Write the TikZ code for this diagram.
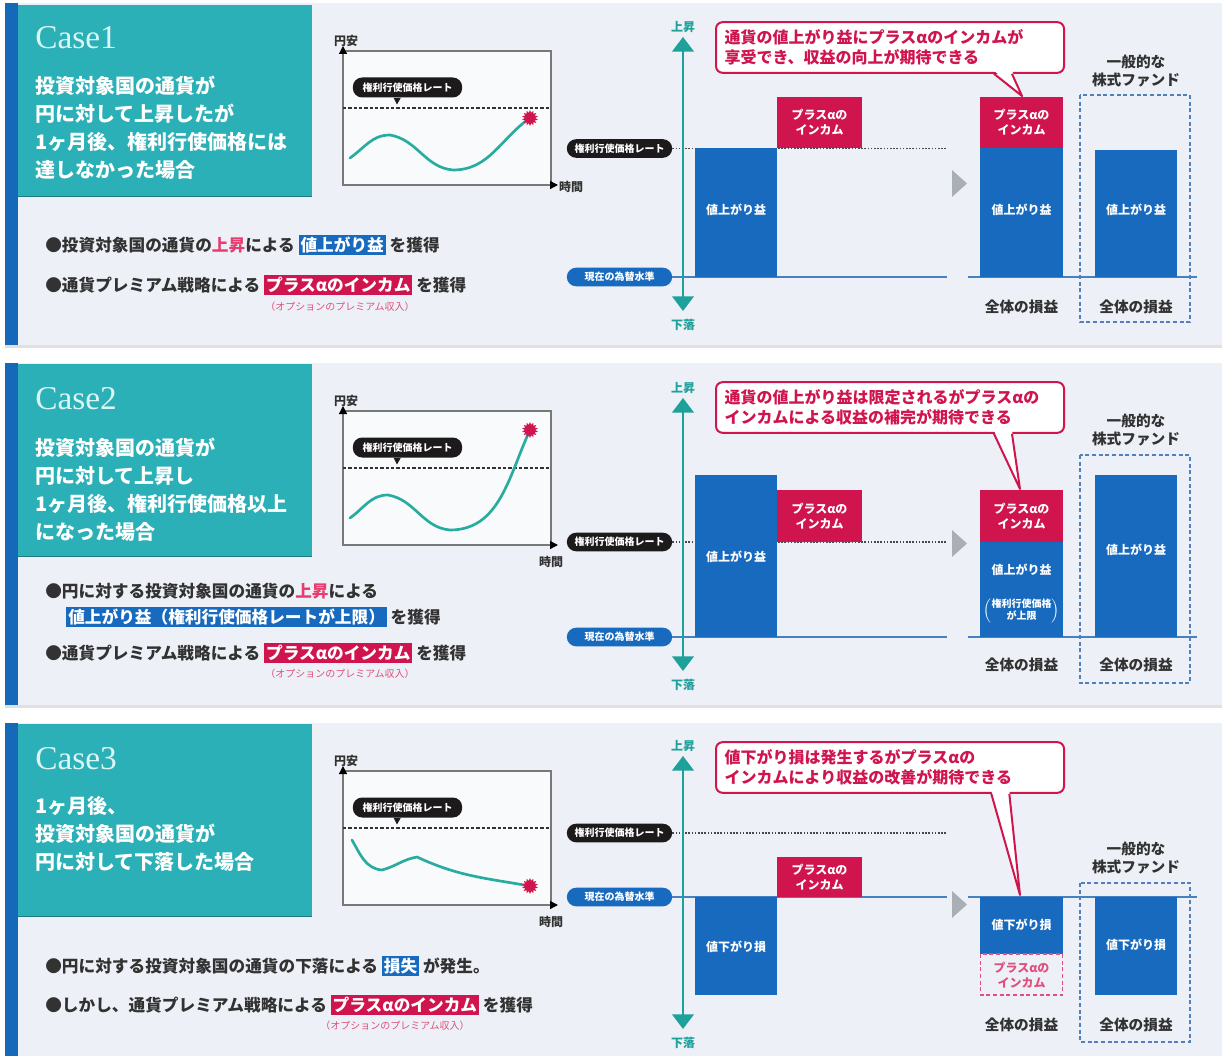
\documentclass[tikz,border=0pt]{standalone}
\usepackage{fontspec}
\setmainfont{Noto Sans CJK JP}
\newfontfamily\casefont{Liberation Serif}
\usetikzlibrary{arrows.meta}
\usetikzlibrary{shapes.geometric}

\definecolor{panelbg}{RGB}{237,241,247}
\definecolor{sidebar}{RGB}{22,104,184}
\definecolor{casebox}{RGB}{42,176,182}
\definecolor{casetext}{RGB}{220,246,246}
\definecolor{barblue}{RGB}{24,106,190}
\definecolor{crimson}{RGB}{208,20,78}
\definecolor{axisteal}{RGB}{30,160,155}
\definecolor{curveteal}{RGB}{40,172,160}
\definecolor{pillblack}{RGB}{28,26,26}
\definecolor{inkgray}{RGB}{50,50,50}
\definecolor{notepink}{RGB}{222,80,125}
\definecolor{hotpink}{RGB}{232,60,110}
\definecolor{arrowgray}{RGB}{170,175,182}
\definecolor{fundblue}{RGB}{80,130,185}
\definecolor{levelblue}{RGB}{70,130,195}
\definecolor{chartbg}{RGB}{248,250,252}
\definecolor{boxgray}{RGB}{120,120,120}

\newcommand{\markblue}[1]{\colorbox{barblue}{\textcolor{white}{#1}}}
\newcommand{\markred}[1]{\colorbox{crimson}{\textcolor{white}{#1}}}
\setlength{\fboxsep}{1.5pt}

\tikzset{
  casetitle/.style={anchor=west, inner sep=0pt, text=casetext, font=\casefont\fontsize{25}{25}\selectfont},
  casedesc/.style={anchor=west, inner sep=0pt, text=white, align=left, font=\bfseries\fontsize{15}{21}\selectfont},
  bulletline/.style={anchor=west, inner sep=0pt, text=inkgray, font=\bfseries\fontsize{12.5}{15}\selectfont},
  optnote/.style={inner sep=0pt, text=notepink, font=\fontsize{7.5}{8}\selectfont},
  axislabel/.style={inner sep=0pt, text=inkgray, font=\bfseries\fontsize{9}{10}\selectfont},
  ratepill/.style={rounded corners=7pt, fill=pillblack, text=white, minimum width=79pt, minimum height=14pt, inner sep=0pt, font=\bfseries\fontsize{7.5}{8}\selectfont},
  levelpill/.style={ratepill, fill=barblue},
  barlabel/.style={text=white, align=center, inner sep=0pt, font=\bfseries\fontsize{9}{11.25}\selectfont},
  trendlabel/.style={text=axisteal, inner sep=0pt, font=\bfseries\fontsize{9}{10}\selectfont},
  callout/.style={draw=crimson, line width=1.5pt, fill=white, rounded corners=5pt, text=crimson, align=left, text width=248pt, minimum height=38pt, inner xsep=6.5pt, font=\bfseries\fontsize{12}{15}\selectfont},
  totallabel/.style={inner sep=0pt, text=inkgray, align=center, font=\bfseries\fontsize{11}{13.5}\selectfont},
  burst/.style={star, star points=14, star point ratio=1.5, fill=crimson, inner sep=0pt, minimum size=12pt},
  chartaxis/.style={draw=boxgray, line width=0.9pt, -{Triangle[width=6pt,length=6pt,color=black]}},
  strikedash/.style={draw=inkgray, line width=0.8pt, dash pattern=on 2.5pt off 1.5pt},
  strikedot/.style={draw=pillblack!80, line width=0.9pt, dash pattern=on 1.2pt off 1.2pt},
  levelline/.style={draw=levelblue, line width=0.9pt},
  fundbox/.style={draw=fundblue, line width=0.9pt, dash pattern=on 3pt off 2pt},
  trendcurve/.style={draw=curveteal, line width=2pt, line cap=round},
  trendarrow/.style={draw=axisteal, line width=2.2pt, {Triangle[width=16pt,length=11pt]}-{Triangle[width=16pt,length=11pt]}, shorten <=3pt, shorten >=6pt},
  tailline/.style={draw=crimson, line width=1.5pt, line join=round},
}

\begin{document}
\begin{tikzpicture}[x=0.75pt,y=-0.75pt]
\fill[white] (0,0) rectangle (1222,1056);
\useasboundingbox (0,0) rectangle (1222,1056);

% ---------- Case 1
\fill[panelbg] (5,3) rectangle (1222,345);
\fill[black!12] (5,345) rectangle (1222,348);
\fill[sidebar] (5,3) rectangle (18,345);
\fill[casebox] (18,5) rectangle (312,197);
\draw[casebox!70!black, line width=1pt] (18,196.5) -- (312,196.5);
\node[casetitle] (c1head) at (35,38) {Case1};
\node[casedesc] (c1desc) at (35,128) {投資対象国の通貨が\\円に対して上昇したが\\1ヶ月後、権利行使価格には\\達しなかった場合};

\node[bulletline] (c1b1) at (45,245) {●投資対象国の通貨の\textcolor{hotpink}{上昇}による \markblue{値上がり益} を獲得};
\node[bulletline] (c1b2) at (45,285) {●通貨プレミアム戦略による \markred{プラスαのインカム} を獲得};
\node[optnote] (c1opt) at (340,307) {（オプションのプレミアム収入）};

\node[axislabel] (c1yen) at (346,41) {円安};
\node[axislabel] (c1time) at (571,187) {時間};
\filldraw[fill=chartbg, draw=boxgray, line width=0.9pt] (343,51) rectangle (551,185);
\coordinate (c1o) at (343,185);
\coordinate (c1ytip) at (343,46);
\coordinate (c1xtip) at (558,185);
\draw[chartaxis] (c1o) -- (c1ytip);
\draw[chartaxis] (c1o) -- (c1xtip);
\draw[strikedash] (343,108) -- (551,108);
\node[ratepill, minimum width=82pt, minimum height=15pt] (c1pill) at (407.5,87.5) {権利行使価格レート};
\fill[pillblack] ([xshift=-10.5pt]c1pill.south) -- ([xshift=-5pt]c1pill.south) -- ([xshift=-7.9pt,yshift=-5pt]c1pill.south) -- cycle;
\draw[trendcurve] (350,158) to[out=35,in=180] (390,135) to[out=-10,in=175] (453,170) to[out=0,in=215] (530,118);
\node[burst] (c1star) at (530,118) {};

\node[trendlabel] (c1up) at (683,27) {上昇};
\node[trendlabel] (c1down) at (683,325) {下落};
\node[ratepill] (c1strike) at (619.5,148.5) {権利行使価格レート};
\node[levelpill] (c1level) at (619.5,277) {現在の為替水準};
\coordinate (c1strikeend) at (947,148.5);
\coordinate (c1levelend) at (947,277);
\draw[strikedot] (c1strike.east) -- (c1strikeend);
\draw[levelline] (c1level.east) -- (c1levelend);
\draw[levelline] (968,277) -- (1197,277);
\fill[barblue] (695,148) rectangle (777,277);
\fill[crimson] (777,97) rectangle (862,148);
\node[barlabel] (c1gain) at (736,210) {値上がり益};
\node[barlabel] (c1inc) at (819.5,122.5) {プラスαの\\インカム};
\draw[trendarrow] (c1up) -- (c1down);

\fill[arrowgray] (952,170) -- (967,183.5) -- (952,197) -- cycle;
\fill[crimson] (980,97) rectangle (1063,148);
\fill[barblue] (980,148) rectangle (1063,277);
\node[barlabel] (c1rinc) at (1021.5,122.5) {プラスαの\\インカム};
\node[barlabel] (c1rgain) at (1021.5,210) {値上がり益};
\node[totallabel] (c1total) at (1021.5,307) {全体の損益};
\draw[fundbox] (1080,95) rectangle (1190,322);
\fill[barblue] (1095,150) rectangle (1177,277);
\node[barlabel] (c1fgain) at (1136,210) {値上がり益};
\node[totallabel] (c1fund) at (1136,71) {一般的な\\株式ファンド};
\node[totallabel] (c1ftotal) at (1136,307) {全体の損益};

\node[callout] (c1note) at (890,47.5) {通貨の値上がり益にプラスαのインカムが\\享受でき、収益の向上が期待できる};
\coordinate (c1tip) at (1022,96);
\fill[white] ([xshift=78pt,yshift=2.5pt]c1note.south) -- (c1tip) -- ([xshift=91.5pt,yshift=2.5pt]c1note.south) -- cycle;
\draw[tailline] ([xshift=78pt]c1note.south) -- (c1tip) -- ([xshift=91.5pt]c1note.south);

% ---------- Case 2
\begin{scope}[shift={(0,360)}]
\fill[panelbg] (5,3) rectangle (1222,345);
\fill[black!12] (5,345) rectangle (1222,348);
\fill[sidebar] (5,3) rectangle (18,345);
\fill[casebox] (18,4) rectangle (312,197);
\draw[casebox!70!black, line width=1pt] (18,196.5) -- (312,196.5);
\node[casetitle] (c2head) at (35,39) {Case2};
\node[casedesc] (c2desc) at (35,130) {投資対象国の通貨が\\円に対して上昇し\\1ヶ月後、権利行使価格以上\\になった場合};

\node[bulletline] (c2b1) at (45,231) {●円に対する投資対象国の通貨の\textcolor{hotpink}{上昇}による};
\node[bulletline] (c2b2) at (66,257) {\markblue{値上がり益（権利行使価格レートが上限）} を獲得};
\node[bulletline] (c2b3) at (45,293) {●通貨プレミアム戦略による \markred{プラスαのインカム} を獲得};
\node[optnote] (c2opt) at (340,314) {（オプションのプレミアム収入）};

\node[axislabel] (c2yen) at (346,41) {円安};
\node[axislabel] (c2time) at (551,202) {時間};
\filldraw[fill=chartbg, draw=boxgray, line width=0.9pt] (343,51) rectangle (551,185);
\coordinate (c2o) at (343,185);
\coordinate (c2ytip) at (343,46);
\coordinate (c2xtip) at (558,185);
\draw[chartaxis] (c2o) -- (c2ytip);
\draw[chartaxis] (c2o) -- (c2xtip);
\draw[strikedash] (343,108) -- (551,108);
\node[ratepill, minimum width=82pt, minimum height=15pt] (c2pill) at (407.5,87.5) {権利行使価格レート};
\fill[pillblack] ([xshift=-10.5pt]c2pill.south) -- ([xshift=-5pt]c2pill.south) -- ([xshift=-7.9pt,yshift=-5pt]c2pill.south) -- cycle;
\draw[trendcurve] (350,158) to[out=35,in=180] (388,135) to[out=-10,in=175] (450,170) to[out=0,in=245] (530,70);
\node[burst] (c2star) at (530,70) {};

\node[trendlabel] (c2up) at (683,28) {上昇};
\node[trendlabel] (c2down) at (683,325) {下落};
\node[ratepill] (c2strike) at (619.5,182) {権利行使価格レート};
\node[levelpill] (c2level) at (619.5,277) {現在の為替水準};
\coordinate (c2strikeend) at (947,182);
\coordinate (c2levelend) at (947,277);
\draw[strikedot] (c2strike.east) -- (c2strikeend);
\draw[levelline] (c2level.east) -- (c2levelend);
\draw[levelline] (968,277) -- (1197,277);
\fill[barblue] (695,115) rectangle (777,277);
\fill[crimson] (777,130) rectangle (862,182);
\node[barlabel] (c2gain) at (736,197) {値上がり益};
\node[barlabel] (c2inc) at (819.5,156) {プラスαの\\インカム};
\draw[trendarrow] (c2up) -- (c2down);

\fill[arrowgray] (952,170) -- (967,183.5) -- (952,197) -- cycle;
\fill[crimson] (980,130) rectangle (1063,182);
\fill[barblue] (980,182) rectangle (1063,277);
\node[barlabel] (c2rinc) at (1021.5,156) {プラスαの\\インカム};
\node[barlabel] (c2rgain) at (1021.5,210) {値上がり益};
\node[barlabel, font=\bfseries\fontsize{7.5}{9}\selectfont] (c2cap) at (1021.5,251) {$\left(\begin{tabular}{@{}c@{}}権利行使価格\\が上限\end{tabular}\right)$};
\node[totallabel] (c2total) at (1021.5,305) {全体の損益};
\draw[fundbox] (1080,95) rectangle (1190,323);
\fill[barblue] (1095,115) rectangle (1177,277);
\node[barlabel] (c2fgain) at (1136,190) {値上がり益};
\node[totallabel] (c2fund) at (1136,70) {一般的な\\株式ファンド};
\node[totallabel] (c2ftotal) at (1136,305) {全体の損益};

\node[callout] (c2note) at (890,47.5) {通貨の値上がり益は限定されるがプラスαの\\インカムによる収益の補完が期待できる};
\coordinate (c2tip) at (1020,129);
\fill[white] ([xshift=78pt,yshift=2.5pt]c2note.south) -- (c2tip) -- ([xshift=91.5pt,yshift=2.5pt]c2note.south) -- cycle;
\draw[tailline] ([xshift=78pt]c2note.south) -- (c2tip) -- ([xshift=91.5pt]c2note.south);
\end{scope}

% ---------- Case 3
\begin{scope}[shift={(0,720)}]
\fill[panelbg] (5,3) rectangle (1222,340);
\fill[sidebar] (5,3) rectangle (18,340);
\fill[casebox] (18,4) rectangle (312,197);
\draw[casebox!70!black, line width=1pt] (18,196.5) -- (312,196.5);
\node[casetitle] (c3head) at (35,39) {Case3};
\node[casedesc] (c3desc) at (35,114) {1ヶ月後、\\投資対象国の通貨が\\円に対して下落した場合};

\node[bulletline] (c3b1) at (45,246) {●円に対する投資対象国の通貨の下落による \markblue{損失} が発生。};
\node[bulletline] (c3b2) at (45,285) {●しかし、通貨プレミアム戦略による \markred{プラスαのインカム} を獲得};
\node[optnote] (c3opt) at (395,306) {（オプションのプレミアム収入）};

\node[axislabel] (c3yen) at (346,41) {円安};
\node[axislabel] (c3time) at (551,202) {時間};
\filldraw[fill=chartbg, draw=boxgray, line width=0.9pt] (343,51) rectangle (551,185);
\coordinate (c3o) at (343,185);
\coordinate (c3ytip) at (343,46);
\coordinate (c3xtip) at (558,185);
\draw[chartaxis] (c3o) -- (c3ytip);
\draw[chartaxis] (c3o) -- (c3xtip);
\draw[strikedash] (343,108) -- (551,108);
\node[ratepill, minimum width=82pt, minimum height=15pt] (c3pill) at (407.5,87.5) {権利行使価格レート};
\fill[pillblack] ([xshift=-10.5pt]c3pill.south) -- ([xshift=-5pt]c3pill.south) -- ([xshift=-7.9pt,yshift=-5pt]c3pill.south) -- cycle;
\draw[trendcurve] (352,120) to[out=-60,in=175] (382,150) to[out=15,in=190] (417,137) to[out=-25,in=170] (530,166);
\node[burst] (c3star) at (530,166) {};

\node[trendlabel] (c3up) at (683,26) {上昇};
\node[trendlabel] (c3down) at (683,323) {下落};
\node[ratepill] (c3strike) at (619.5,113) {権利行使価格レート};
\node[levelpill] (c3level) at (619.5,177) {現在の為替水準};
\coordinate (c3strikeend) at (947,113);
\coordinate (c3levelend) at (947,177);
\draw[strikedot] (c3strike.east) -- (c3strikeend);
\draw[levelline] (c3level.east) -- (c3levelend);
\draw[levelline] (968,177) -- (1197,177);
\fill[barblue] (695,177) rectangle (777,275);
\fill[crimson] (777,137) rectangle (862,177);
\node[barlabel] (c3loss) at (736,227) {値下がり損};
\node[barlabel] (c3inc) at (819.5,157) {プラスαの\\インカム};
\draw[trendarrow] (c3up) -- (c3down);

\fill[arrowgray] (952,171) -- (967,184.5) -- (952,198) -- cycle;
\fill[barblue] (980,177) rectangle (1063,234);
\draw[draw=notepink, line width=0.9pt, dash pattern=on 3pt off 2pt] (980.5,234) rectangle (1062.5,275);
\node[barlabel] (c3rloss) at (1021.5,205) {値下がり損};
\node[barlabel, text=notepink] (c3rinc) at (1021.5,255) {プラスαの\\インカム};
\node[totallabel] (c3total) at (1021.5,305) {全体の損益};
\draw[fundbox] (1080,163) rectangle (1190,322);
\fill[barblue] (1095,177) rectangle (1177,275);
\node[barlabel] (c3floss) at (1136,225) {値下がり損};
\node[totallabel] (c3fund) at (1136,138) {一般的な\\株式ファンド};
\node[totallabel] (c3ftotal) at (1136,305) {全体の損益};

\node[callout] (c3note) at (890,47.5) {値下がり損は発生するがプラスαの\\インカムにより収益の改善が期待できる};
\coordinate (c3tip) at (1020,175);
\fill[white] ([xshift=76pt,yshift=2.5pt]c3note.south) -- (c3tip) -- ([xshift=89.5pt,yshift=2.5pt]c3note.south) -- cycle;
\draw[tailline] ([xshift=76pt]c3note.south) -- (c3tip) -- ([xshift=89.5pt]c3note.south);
\end{scope}
\end{tikzpicture}
\end{document}
